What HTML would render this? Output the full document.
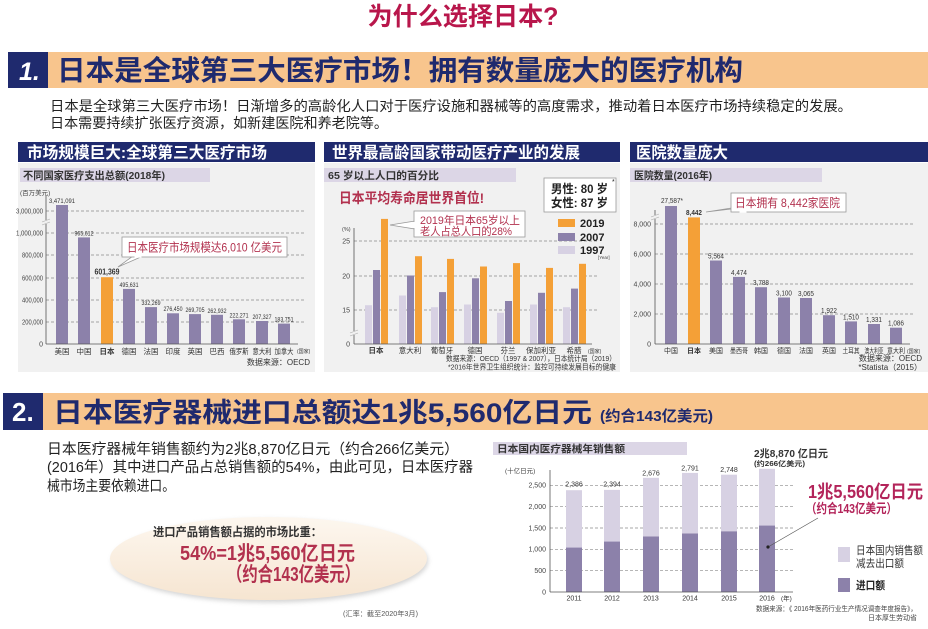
<!DOCTYPE html>
<html><head><meta charset="utf-8"><style>
html,body{margin:0;padding:0;background:#fff;}
svg{display:block;}
text{font-family:"Liberation Sans","Noto Sans CJK SC",sans-serif;}
</style></head><body>
<svg width="928" height="629" viewBox="0 0 928 629" xmlns="http://www.w3.org/2000/svg">
<defs>
<filter id="blur" x="-10%" y="-20%" width="120%" height="140%"><feGaussianBlur stdDeviation="2.5"/></filter>
<linearGradient id="eg" x1="0" y1="0" x2="0" y2="1"><stop offset="0" stop-color="#fdf7ef"/><stop offset="1" stop-color="#f6e5d1"/></linearGradient>
</defs>
<rect width="928" height="629" fill="#fff"/>

<!-- Title -->
<text x="463" y="25" text-anchor="middle" font-size="25" font-weight="bold" fill="#b8164b" textLength="191" lengthAdjust="spacingAndGlyphs">为什么选择日本?</text>

<!-- Section 1 banner -->
<rect x="48" y="52" width="880" height="36" fill="#f8c58d"/>
<rect x="8" y="52" width="40" height="36" fill="#1f2a6e"/>
<text x="19" y="80" font-size="25" font-weight="bold" font-style="italic" fill="#fff">1.</text>
<text x="57" y="80" font-size="28" font-weight="bold" fill="#1f2a6e" textLength="686" lengthAdjust="spacingAndGlyphs">日本是全球第三大医疗市场！拥有数量庞大的医疗机构</text>

<text x="50" y="111" font-size="14" fill="#222" textLength="802" lengthAdjust="spacingAndGlyphs">日本是全球第三大医疗市场！日渐增多的高龄化人口对于医疗设施和器械等的高度需求，推动着日本医疗市场持续稳定的发展。</text>
<text x="50" y="128" font-size="14" fill="#222" textLength="338" lengthAdjust="spacingAndGlyphs">日本需要持续扩张医疗资源，如新建医院和养老院等。</text>

<!-- Panel backgrounds -->
<rect x="18" y="163" width="297" height="209" fill="#f1f1f1"/>
<rect x="324" y="163" width="296" height="209" fill="#f1f1f1"/>
<rect x="630" y="163" width="298" height="209" fill="#f1f1f1"/>
<rect x="18" y="142" width="297" height="20" fill="#1f2a6e"/>
<rect x="324" y="142" width="296" height="20" fill="#1f2a6e"/>
<rect x="630" y="142" width="298" height="20" fill="#1f2a6e"/>
<text x="27" y="158" font-size="16" font-weight="bold" fill="#fff" textLength="240" lengthAdjust="spacingAndGlyphs">市场规模巨大:全球第三大医疗市场</text>
<text x="332" y="158" font-size="16" font-weight="bold" fill="#fff" textLength="248" lengthAdjust="spacingAndGlyphs">世界最高龄国家带动医疗产业的发展</text>
<text x="636" y="158" font-size="16" font-weight="bold" fill="#fff" textLength="92" lengthAdjust="spacingAndGlyphs">医院数量庞大</text>

<rect x="20" y="168" width="190" height="14" fill="#dcd6e6"/>
<rect x="324" y="168" width="192" height="14" fill="#dcd6e6"/>
<rect x="630" y="168" width="192" height="14" fill="#dcd6e6"/>
<text x="23" y="179" font-size="10.5" font-weight="bold" fill="#333" textLength="142" lengthAdjust="spacingAndGlyphs">不同国家医疗支出总额(2018年)</text>
<text x="328" y="179" font-size="10.5" font-weight="bold" fill="#333" textLength="111" lengthAdjust="spacingAndGlyphs">65 岁以上人口的百分比</text>
<text x="634" y="179" font-size="10.5" font-weight="bold" fill="#333" textLength="78" lengthAdjust="spacingAndGlyphs">医院数量(2016年)</text>

<!-- Chart 1 -->
<g font-size="7" fill="#444">
<text x="20" y="195" font-size="6.5">(百万美元)</text>
<g text-anchor="end">
<text x="43" y="213.5" textLength="27" lengthAdjust="spacingAndGlyphs">3,000,000</text>
<text x="43" y="235.5" textLength="27" lengthAdjust="spacingAndGlyphs">1,000,000</text>
<text x="43" y="257.5" textLength="21" lengthAdjust="spacingAndGlyphs">800,000</text>
<text x="43" y="280.5" textLength="21" lengthAdjust="spacingAndGlyphs">600,000</text>
<text x="43" y="302.5" textLength="21" lengthAdjust="spacingAndGlyphs">400,000</text>
<text x="43" y="324.5" textLength="21" lengthAdjust="spacingAndGlyphs">200,000</text>
<text x="43" y="346.5">0</text>
</g>
</g>
<g stroke="#8a8a8a" stroke-width="0.7" stroke-dasharray="3,2">
<line x1="46" y1="211" x2="305" y2="211"/>
<line x1="46" y1="233" x2="305" y2="233"/>
<line x1="46" y1="255" x2="305" y2="255"/>
<line x1="46" y1="278" x2="305" y2="278"/>
<line x1="46" y1="300" x2="305" y2="300"/>
<line x1="46" y1="322" x2="305" y2="322"/>
</g>
<line x1="46" y1="196" x2="46" y2="344" stroke="#555" stroke-width="0.8"/>
<rect x="43" y="220" width="6" height="4" fill="#f1f1f1"/>
<line x1="42" y1="222" x2="50" y2="219" stroke="#aaa" stroke-width="0.6"/>
<line x1="42" y1="225" x2="50" y2="222" stroke="#aaa" stroke-width="0.6"/>
<g fill="#8c81aa">
<rect x="56" y="205" width="12" height="139"/>
<rect x="78" y="237.4" width="12" height="106.6"/>
<rect x="123" y="288.9" width="12" height="55.1"/>
<rect x="145" y="307.1" width="12" height="36.9"/>
<rect x="167" y="313.3" width="12" height="30.7"/>
<rect x="189" y="314.1" width="12" height="29.9"/>
<rect x="211" y="314.8" width="12" height="29.2"/>
<rect x="233" y="319.3" width="12" height="24.7"/>
<rect x="256" y="321" width="12" height="23"/>
<rect x="278" y="323.6" width="12" height="20.4"/>
</g>
<rect x="101" y="277.2" width="12" height="66.8" fill="#f4a037"/>
<line x1="46" y1="344" x2="298" y2="344" stroke="#555" stroke-width="0.8"/>
<g font-size="6.5" fill="#333" text-anchor="middle">
<text x="62" y="203" textLength="26" lengthAdjust="spacingAndGlyphs">3,471,091</text>
<text x="84" y="235.5" textLength="19" lengthAdjust="spacingAndGlyphs">965,612</text>
<text x="107" y="274.5" font-size="8" font-weight="bold" textLength="25" lengthAdjust="spacingAndGlyphs">601,369</text>
<text x="129" y="287" textLength="19" lengthAdjust="spacingAndGlyphs">495,631</text>
<text x="151" y="305" textLength="19" lengthAdjust="spacingAndGlyphs">332,269</text>
<text x="173" y="311" textLength="19" lengthAdjust="spacingAndGlyphs">276,450</text>
<text x="195" y="312" textLength="19" lengthAdjust="spacingAndGlyphs">269,705</text>
<text x="217" y="312.8" textLength="19" lengthAdjust="spacingAndGlyphs">262,932</text>
<text x="239" y="317.3" textLength="19" lengthAdjust="spacingAndGlyphs">222,271</text>
<text x="262" y="319" textLength="19" lengthAdjust="spacingAndGlyphs">207,327</text>
<text x="284" y="321.6" textLength="19" lengthAdjust="spacingAndGlyphs">183,751</text>
</g>
<g font-size="7.5" fill="#333" text-anchor="middle">
<text x="62" y="354">美国</text>
<text x="84" y="354">中国</text>
<text x="107" y="354" font-weight="bold">日本</text>
<text x="129" y="354">德国</text>
<text x="151" y="354">法国</text>
<text x="173" y="354">印度</text>
<text x="195" y="354">英国</text>
<text x="217" y="354">巴西</text>
<text x="239" y="354" textLength="19" lengthAdjust="spacingAndGlyphs">俄罗斯</text>
<text x="262" y="354" textLength="19" lengthAdjust="spacingAndGlyphs">意大利</text>
<text x="284" y="354" textLength="19" lengthAdjust="spacingAndGlyphs">加拿大</text>
</g>
<text x="297" y="353" font-size="5" fill="#333">(国家)</text>
<text x="310" y="365" font-size="8" fill="#333" text-anchor="end">数据来源：OECD</text>
<polygon points="133,256 118,267 143,256" fill="#fff" stroke="#999" stroke-width="0.8"/>
<rect x="122" y="237" width="165" height="20" fill="#fff" stroke="#999" stroke-width="0.8"/>
<line x1="134.5" y1="257" x2="141.5" y2="257" stroke="#fff" stroke-width="1.4"/>
<text x="127" y="251.5" font-size="12" fill="#b2314e" textLength="155" lengthAdjust="spacingAndGlyphs">日本医疗市场规模达6,010 亿美元</text>

<!-- Chart 2 -->
<text x="339" y="203" font-size="14" font-weight="bold" fill="#b2314e" textLength="145" lengthAdjust="spacingAndGlyphs">日本平均寿命居世界首位!</text>
<rect x="544" y="178" width="72" height="34" fill="#fff" stroke="#999" stroke-width="0.8"/>
<text x="551" y="193" font-size="12" font-weight="bold" fill="#222" textLength="57" lengthAdjust="spacingAndGlyphs">男性: 80 岁</text>
<text x="551" y="207" font-size="12" font-weight="bold" fill="#222" textLength="57" lengthAdjust="spacingAndGlyphs">女性: 87 岁</text>
<text x="612" y="184" font-size="7" fill="#222">*</text>
<g font-size="7" fill="#444" text-anchor="end">
<text x="350" y="243.5">25</text>
<text x="350" y="278.5">20</text>
<text x="350" y="312.5">15</text>
<text x="350" y="346.5">0</text>
</g>
<text x="342" y="231" font-size="5.5" fill="#444">(%)</text>
<g stroke="#8a8a8a" stroke-width="0.7" stroke-dasharray="3,2">
<line x1="354" y1="241" x2="598" y2="241"/>
<line x1="354" y1="276" x2="598" y2="276"/>
<line x1="354" y1="310" x2="598" y2="310"/>
</g>
<line x1="354" y1="228" x2="354" y2="344" stroke="#555" stroke-width="0.8"/>
<rect x="351" y="331" width="6" height="4" fill="#f1f1f1"/>
<line x1="350" y1="333" x2="358" y2="330" stroke="#aaa" stroke-width="0.6"/>
<line x1="350" y1="336" x2="358" y2="333" stroke="#aaa" stroke-width="0.6"/>
<g fill="#d7d1e3">
<rect x="365" y="305.2" width="7" height="38.8"/>
<rect x="399" y="295.5" width="7" height="48.5"/>
<rect x="431" y="307.2" width="7" height="36.8"/>
<rect x="464" y="304.5" width="7" height="39.5"/>
<rect x="497" y="312.8" width="7" height="31.2"/>
<rect x="530" y="304.5" width="7" height="39.5"/>
<rect x="563" y="307.2" width="7" height="36.8"/>
</g>
<g fill="#8c81aa">
<rect x="373" y="270" width="7" height="74"/>
<rect x="407" y="275.5" width="7" height="68.5"/>
<rect x="439" y="292.1" width="7" height="51.9"/>
<rect x="472" y="278.3" width="7" height="65.7"/>
<rect x="505" y="301" width="7" height="43"/>
<rect x="538" y="292.8" width="7" height="51.2"/>
<rect x="571" y="288.6" width="7" height="55.4"/>
</g>
<g fill="#f4a037">
<rect x="381" y="218.9" width="7" height="125.1"/>
<rect x="415" y="256.2" width="7" height="87.8"/>
<rect x="447" y="258.9" width="7" height="85.1"/>
<rect x="480" y="266.5" width="7" height="77.5"/>
<rect x="513" y="263.1" width="7" height="80.9"/>
<rect x="546" y="267.9" width="7" height="76.1"/>
<rect x="579" y="263.8" width="7" height="80.2"/>
</g>
<line x1="354" y1="344" x2="592" y2="344" stroke="#555" stroke-width="0.8"/>
<g font-size="7.5" fill="#333" text-anchor="middle">
<text x="376" y="353" font-weight="bold">日本</text>
<text x="410" y="353">意大利</text>
<text x="442" y="353">葡萄牙</text>
<text x="475" y="353">德国</text>
<text x="508" y="353">芬兰</text>
<text x="541" y="353">保加利亚</text>
<text x="574" y="353">希腊</text>
</g>
<text x="588" y="353" font-size="5" fill="#333">(国家)</text>
<text x="616" y="361" font-size="7.5" fill="#333" text-anchor="end" textLength="170" lengthAdjust="spacingAndGlyphs">数据来源：OECD（1997 &amp; 2007），日本统计局（2019）</text>
<text x="616" y="369.5" font-size="7.5" fill="#333" text-anchor="end" textLength="168" lengthAdjust="spacingAndGlyphs">*2016年世界卫生组织统计：监控可持续发展目标的健康</text>
<!-- legend -->
<rect x="558" y="219" width="17" height="8" fill="#f4a037"/>
<rect x="558" y="233" width="17" height="8" fill="#8c81aa"/>
<rect x="558" y="246" width="17" height="8" fill="#d7d1e3"/>
<g font-size="11" font-weight="bold" fill="#222">
<text x="580" y="227">2019</text>
<text x="580" y="241">2007</text>
<text x="580" y="254">1997</text>
</g>
<text x="598" y="259" font-size="4.5" fill="#444">[Year]</text>
<!-- callout -->
<polygon points="415,221 390,225 415,229" fill="#fff" stroke="#999" stroke-width="0.8"/>
<rect x="414" y="211" width="111" height="26" fill="#fff" stroke="#999" stroke-width="0.8"/>
<line x1="414" y1="222" x2="414" y2="228" stroke="#fff" stroke-width="1.4"/>
<text x="420" y="224" font-size="11" fill="#b2314e" textLength="100" lengthAdjust="spacingAndGlyphs">2019年日本65岁以上</text>
<text x="420" y="235" font-size="11" fill="#b2314e" textLength="92" lengthAdjust="spacingAndGlyphs">老人占总人口的28%</text>

<!-- Chart 3 -->
<g font-size="7" fill="#444" text-anchor="end">
<text x="651" y="226.5">8,000</text>
<text x="651" y="256.5">6,000</text>
<text x="651" y="286.5">4,000</text>
<text x="651" y="316.5">2,000</text>
<text x="651" y="346.5">0</text>
</g>
<g stroke="#8a8a8a" stroke-width="0.7" stroke-dasharray="3,2">
<line x1="655" y1="224" x2="913" y2="224"/>
<line x1="655" y1="254" x2="913" y2="254"/>
<line x1="655" y1="284" x2="913" y2="284"/>
<line x1="655" y1="314" x2="913" y2="314"/>
</g>
<line x1="655" y1="210" x2="655" y2="344" stroke="#555" stroke-width="0.8"/>
<rect x="652" y="215" width="6" height="4" fill="#f1f1f1"/>
<line x1="651" y1="217" x2="659" y2="214" stroke="#aaa" stroke-width="0.6"/>
<line x1="651" y1="220" x2="659" y2="217" stroke="#aaa" stroke-width="0.6"/>
<g fill="#8c81aa">
<rect x="665" y="206" width="12" height="138"/>
<rect x="710" y="260.5" width="12" height="83.5"/>
<rect x="733" y="276.9" width="12" height="67.1"/>
<rect x="755" y="287.2" width="12" height="56.8"/>
<rect x="778" y="297.5" width="12" height="46.5"/>
<rect x="800" y="298" width="12" height="46"/>
<rect x="823" y="315.2" width="12" height="28.8"/>
<rect x="845" y="321.4" width="12" height="22.6"/>
<rect x="868" y="324" width="12" height="20"/>
<rect x="890" y="327.7" width="12" height="16.3"/>
</g>
<rect x="688" y="217.4" width="12" height="126.6" fill="#f4a037"/>
<line x1="655" y1="344" x2="910" y2="344" stroke="#555" stroke-width="0.8"/>
<g font-size="7" fill="#333" text-anchor="middle">
<text x="672" y="203" textLength="22" lengthAdjust="spacingAndGlyphs">27,587*</text>
<text x="694" y="215" font-weight="bold" textLength="16" lengthAdjust="spacingAndGlyphs">8,442</text>
<text x="716" y="258.5" textLength="16" lengthAdjust="spacingAndGlyphs">5,564</text>
<text x="739" y="275" textLength="16" lengthAdjust="spacingAndGlyphs">4,474</text>
<text x="761" y="285" textLength="16" lengthAdjust="spacingAndGlyphs">3,788</text>
<text x="784" y="295.5" textLength="16" lengthAdjust="spacingAndGlyphs">3,100</text>
<text x="806" y="296" textLength="16" lengthAdjust="spacingAndGlyphs">3,065</text>
<text x="829" y="313" textLength="16" lengthAdjust="spacingAndGlyphs">1,922</text>
<text x="851" y="319.4" textLength="16" lengthAdjust="spacingAndGlyphs">1,510</text>
<text x="874" y="322" textLength="16" lengthAdjust="spacingAndGlyphs">1,331</text>
<text x="896" y="325.7" textLength="16" lengthAdjust="spacingAndGlyphs">1,086</text>
</g>
<g font-size="7" fill="#333" text-anchor="middle">
<text x="671" y="353">中国</text>
<text x="694" y="353" font-weight="bold">日本</text>
<text x="716" y="353">美国</text>
<text x="739" y="353" textLength="18" lengthAdjust="spacingAndGlyphs">墨西哥</text>
<text x="761" y="353">韩国</text>
<text x="784" y="353">德国</text>
<text x="806" y="353">法国</text>
<text x="829" y="353">英国</text>
<text x="851" y="353" textLength="17" lengthAdjust="spacingAndGlyphs">土耳其</text>
<text x="874" y="353" textLength="19" lengthAdjust="spacingAndGlyphs">澳大利亚</text>
<text x="896" y="353" textLength="18" lengthAdjust="spacingAndGlyphs">意大利</text>
</g>
<text x="907" y="353" font-size="5" fill="#333">(国家)</text>
<text x="922" y="361" font-size="8" fill="#333" text-anchor="end">数据来源：OECD</text>
<text x="922" y="370" font-size="8" fill="#333" text-anchor="end">*Statista（2015）</text>
<polygon points="738,207 706,212 748,207" fill="#fff" stroke="#999" stroke-width="0.8"/>
<rect x="731" y="193" width="115" height="19" fill="#fff" stroke="#999" stroke-width="0.8"/>
<line x1="739.5" y1="212" x2="746.5" y2="212" stroke="#fff" stroke-width="1.4"/>
<text x="735" y="207" font-size="12" fill="#b2314e" textLength="105" lengthAdjust="spacingAndGlyphs">日本拥有 8,442家医院</text>

<!-- Section 2 banner -->
<rect x="43" y="393" width="885" height="37" fill="#f8c58d"/>
<rect x="3" y="393" width="40" height="37" fill="#1f2a6e"/>
<text x="12" y="421" font-size="26" font-weight="bold" fill="#fff">2.</text>
<text x="53" y="422" font-size="27" font-weight="bold" fill="#1f2a6e" textLength="539" lengthAdjust="spacingAndGlyphs">日本医疗器械进口总额达1兆5,560亿日元</text>
<text x="600" y="421" font-size="15" font-weight="bold" fill="#1f2a6e" textLength="113" lengthAdjust="spacingAndGlyphs">(约合143亿美元)</text>

<text x="47" y="454" font-size="14.5" fill="#222" textLength="412" lengthAdjust="spacingAndGlyphs">日本医疗器械年销售额约为2兆8,870亿日元（约合266亿美元）</text>
<text x="47" y="472" font-size="14.5" fill="#222" textLength="426" lengthAdjust="spacingAndGlyphs">(2016年）其中进口产品占总销售额的54%，由此可见，日本医疗器</text>
<text x="47" y="491" font-size="14.5" fill="#222" textLength="128" lengthAdjust="spacingAndGlyphs">械市场主要依赖进口。</text>

<!-- Ellipse -->
<ellipse cx="270" cy="561" rx="158" ry="41.5" fill="#a0a0a0" opacity="0.45" filter="url(#blur)"/>
<ellipse cx="268.5" cy="558.5" rx="158.5" ry="41.5" fill="url(#eg)"/>
<text x="153" y="536" font-size="12" font-weight="bold" fill="#333" textLength="169" lengthAdjust="spacingAndGlyphs">进口产品销售额占据的市场比重：</text>
<text x="180" y="560" font-size="20" font-weight="bold" fill="#b2314e" textLength="175" lengthAdjust="spacingAndGlyphs">54%=1兆5,560亿日元</text>
<text x="227" y="581" font-size="20" font-weight="bold" fill="#b2314e" textLength="133" lengthAdjust="spacingAndGlyphs">（约合143亿美元）</text>
<text x="343" y="616" font-size="7" fill="#555" textLength="75" lengthAdjust="spacingAndGlyphs">(汇率：截至2020年3月)</text>

<!-- Bottom chart -->
<rect x="493" y="442" width="194" height="13" fill="#dcd6e6"/>
<text x="497" y="452.5" font-size="10" font-weight="bold" fill="#333" textLength="128" lengthAdjust="spacingAndGlyphs">日本国内医疗器械年销售额</text>
<text x="505" y="473" font-size="6.5" fill="#444">(十亿日元)</text>
<g font-size="7" fill="#444" text-anchor="end">
<text x="546" y="487.5">2,500</text>
<text x="546" y="509">2,000</text>
<text x="546" y="530.5">1,500</text>
<text x="546" y="551.5">1,000</text>
<text x="546" y="573">500</text>
<text x="546" y="594.5">0</text>
</g>
<g stroke="#8a8a8a" stroke-width="0.7" stroke-dasharray="3,2">
<line x1="550" y1="485.3" x2="793" y2="485.3"/>
<line x1="550" y1="506.7" x2="793" y2="506.7"/>
<line x1="550" y1="528" x2="793" y2="528"/>
<line x1="550" y1="549.3" x2="793" y2="549.3"/>
<line x1="550" y1="570.7" x2="793" y2="570.7"/>
</g>
<line x1="550" y1="470" x2="550" y2="592" stroke="#555" stroke-width="0.8"/>
<g fill="#d7d1e3">
<rect x="566" y="490.2" width="16" height="102"/>
<rect x="604" y="489.9" width="16" height="102"/>
<rect x="643" y="477.8" width="16" height="114"/>
<rect x="682" y="472.9" width="16" height="119"/>
<rect x="721" y="474.7" width="16" height="117"/>
<rect x="759" y="468.8" width="16" height="123"/>
</g>
<g fill="#8c81aa">
<rect x="566" y="547.6" width="16" height="44.4"/>
<rect x="604" y="541.6" width="16" height="50.4"/>
<rect x="643" y="536.5" width="16" height="55.5"/>
<rect x="682" y="533.5" width="16" height="58.5"/>
<rect x="721" y="531.4" width="16" height="60.6"/>
<rect x="759" y="525.6" width="16" height="66.4"/>
</g>
<line x1="550" y1="592" x2="793" y2="592" stroke="#555" stroke-width="0.8"/>
<g font-size="7" fill="#333" text-anchor="middle">
<text x="574" y="486.5">2,386</text>
<text x="612" y="486.5">2,394</text>
<text x="651" y="475.5">2,676</text>
<text x="690" y="470.5">2,791</text>
<text x="729" y="472">2,748</text>
</g>
<g font-size="7" fill="#333" text-anchor="middle">
<text x="574" y="600.5">2011</text>
<text x="612" y="600.5">2012</text>
<text x="651" y="600.5">2013</text>
<text x="690" y="600.5">2014</text>
<text x="729" y="600.5">2015</text>
<text x="767" y="600.5">2016</text>
</g>
<text x="781" y="600.5" font-size="6.5" fill="#333">(年)</text>
<text x="754" y="457" font-size="10.5" font-weight="bold" fill="#333" textLength="74" lengthAdjust="spacingAndGlyphs">2兆8,870 亿日元</text>
<text x="754" y="466" font-size="7" font-weight="bold" fill="#333" textLength="51" lengthAdjust="spacingAndGlyphs">(约266亿美元)</text>
<text x="808" y="498" font-size="18" font-weight="bold" fill="#b3245a" textLength="115" lengthAdjust="spacingAndGlyphs">1兆5,560亿日元</text>
<text x="806" y="513" font-size="13" font-weight="bold" fill="#b3245a" textLength="91" lengthAdjust="spacingAndGlyphs">（约合143亿美元）</text>
<line x1="818" y1="518" x2="768" y2="547" stroke="#555" stroke-width="0.7"/>
<circle cx="768" cy="547" r="1.6" fill="#222"/>
<rect x="838" y="547" width="12" height="15" fill="#d7d1e3"/>
<rect x="838" y="578" width="12" height="14" fill="#8c81aa"/>
<text x="856" y="554" font-size="11" fill="#333" textLength="67" lengthAdjust="spacingAndGlyphs">日本国内销售额</text>
<text x="856" y="567" font-size="11" fill="#333" textLength="48" lengthAdjust="spacingAndGlyphs">减去出口额</text>
<text x="856" y="589" font-size="11" font-weight="bold" fill="#222" textLength="29" lengthAdjust="spacingAndGlyphs">进口额</text>
<text x="917" y="611" font-size="7" fill="#444" text-anchor="end" textLength="161" lengthAdjust="spacingAndGlyphs">数据来源：《 2016年医药行业生产情况调查年度报告》，</text>
<text x="917" y="620" font-size="7" fill="#444" text-anchor="end">日本厚生劳动省</text>
</svg>
</body></html>
